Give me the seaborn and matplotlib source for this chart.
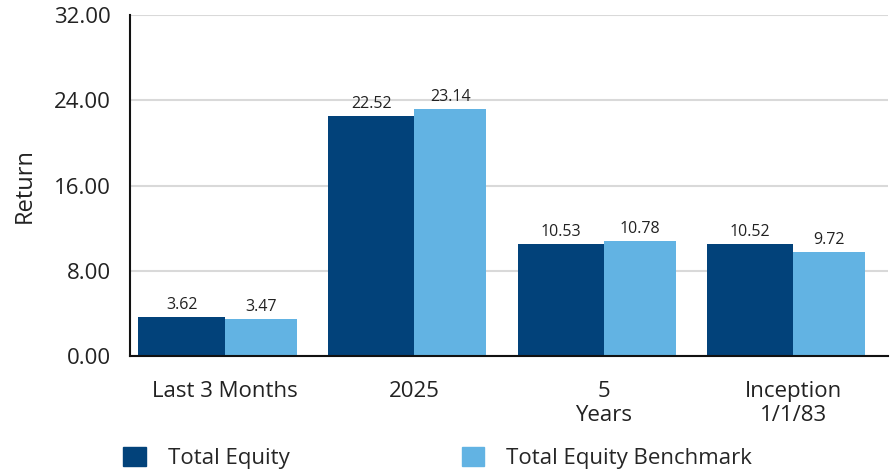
import matplotlib
matplotlib.use("Agg")
import matplotlib.pyplot as plt
import matplotlib.patches as mpatches
import seaborn as sns
import pandas as pd

# data
periods = ["Last 3 Months", "2025", "5\nYears", "Inception\n1/1/83"]
total_equity = [3.62, 22.52, 10.53, 10.52]
benchmark = [3.47, 23.14, 10.78, 9.72]
series_names = ["Total Equity", "Total Equity Benchmark"]
y_ticks = [0, 8, 16, 24, 32]

dark = "#02427a"
light = "#62b3e3"

sns.set_theme(style="white")
plt.rcParams["font.family"] = ["Open Sans", "DejaVu Sans"]

df = pd.DataFrame({
    "period": periods * 2,
    "value": total_equity + benchmark,
    "series": [series_names[0]] * 4 + [series_names[1]] * 4,
})

fig = plt.figure(figsize=(8.92, 4.72), dpi=100)
ax = fig.add_axes([0.1457, 0.2458, 0.8498, 0.7222])

sns.barplot(data=df, x="period", y="value", hue="series",
            palette=[dark, light], saturation=1, width=0.8, linewidth=0,
            order=periods, hue_order=series_names, legend=False, ax=ax)

# dark bars a bit wider than light ones, both meeting at the category centre
for i, c in enumerate(ax.containers):
    for j, p in enumerate(c.patches):
        p.set_linewidth(0)
        if i == 0:
            p.set_x(j - 0.455)
            p.set_width(0.455)
        else:
            p.set_x(j)
            p.set_width(0.38)
    ax.bar_label(c, labels=[f"{v:.2f}" for v in c.datavalues],
                 padding=3, fontsize=11.5, color="#222222")

ax.set_ylim(0, 32)
ax.set_xlim(-0.5, 3.5)
ax.set_yticks(y_ticks)
ax.set_yticklabels([f"{t:.2f}" for t in y_ticks], fontsize=16, color="#222222")
ax.tick_params(axis="y", length=0, pad=14)
ax.tick_params(axis="x", length=0, pad=18, labelsize=16, labelcolor="#222222")
ax.set_xlabel("")
ax.set_ylabel("Return", fontsize=17, color="#222222", labelpad=12)
ax.yaxis.grid(True, color="#d9d9d9", linewidth=1.5)
ax.set_axisbelow(True)
sns.despine(ax=ax, top=True, right=True)
for s in ["left", "bottom"]:
    ax.spines[s].set_color("#111111")
    ax.spines[s].set_linewidth(1.5)

handles = [mpatches.Patch(color=dark, label=series_names[0]),
           mpatches.Patch(color=light, label=series_names[1])]
fig.legend(handles=handles, loc="center left", bbox_to_anchor=(0.116, 0.03),
           ncol=2, frameon=False, fontsize=16, handlelength=1.0,
           handleheight=1.0, handletextpad=1.0, columnspacing=7.75)

fig.savefig("out.png", dpi=100)
